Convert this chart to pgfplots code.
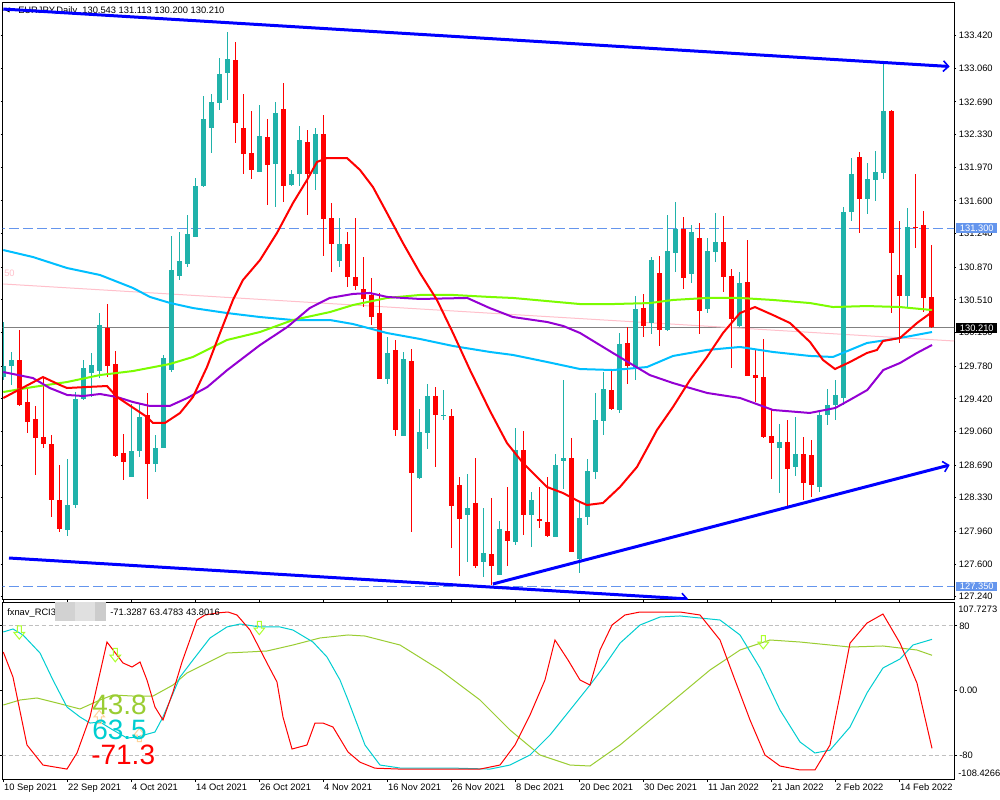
\documentclass[border=0pt]{standalone}
\usepackage{pgfplots}
\pgfplotsset{compat=1.18}
\usepackage{pgfplotstable}
\usepackage{fontspec}
\setmainfont{Liberation Sans}
\usetikzlibrary{arrows.meta}

\definecolor{candleup}{HTML}{20B2AA}
\definecolor{candledn}{HTML}{FF0000}
\definecolor{maRed}{HTML}{FF0000}
\definecolor{maSky}{HTML}{00BFFF}
\definecolor{maLime}{HTML}{7CFC00}
\definecolor{maViolet}{HTML}{9400D3}
\definecolor{pinkline}{HTML}{FFC0CB}
\definecolor{trend}{HTML}{0000FF}
\definecolor{cornflower}{HTML}{6495ED}
\definecolor{rciRed}{HTML}{FF0000}
\definecolor{rciCyan}{HTML}{00CED1}
\definecolor{rciOlive}{HTML}{9ACD32}
\definecolor{levelgray}{HTML}{C0C0C0}
\definecolor{arrowgreen}{HTML}{ADFF2F}
\definecolor{arroworange}{HTML}{FFD39B}
\definecolor{pricegray}{HTML}{808080}

\newcommand{\ts}{\fontsize{7}{8.4}\selectfont}

\pgfdeclareplotmark{dnarrow}{%
  \pgfpathmoveto{\pgfqpoint{-1.5pt}{5pt}}%
  \pgfpathlineto{\pgfqpoint{1.5pt}{5pt}}%
  \pgfpathlineto{\pgfqpoint{1.5pt}{0pt}}%
  \pgfpathlineto{\pgfqpoint{4pt}{0pt}}%
  \pgfpathlineto{\pgfqpoint{0pt}{-5pt}}%
  \pgfpathlineto{\pgfqpoint{-4pt}{0pt}}%
  \pgfpathlineto{\pgfqpoint{-1.5pt}{0pt}}%
  \pgfpathclose\pgfusepathqstroke}
\pgfdeclareplotmark{uparrow}{%
  \pgfpathmoveto{\pgfqpoint{-1.5pt}{-5pt}}%
  \pgfpathlineto{\pgfqpoint{1.5pt}{-5pt}}%
  \pgfpathlineto{\pgfqpoint{1.5pt}{0pt}}%
  \pgfpathlineto{\pgfqpoint{4pt}{0pt}}%
  \pgfpathlineto{\pgfqpoint{0pt}{5pt}}%
  \pgfpathlineto{\pgfqpoint{-4pt}{0pt}}%
  \pgfpathlineto{\pgfqpoint{-1.5pt}{0pt}}%
  \pgfpathclose\pgfusepathqstroke}

% bullish candles: index open high low close
\pgfplotstableread{
i o h l c
0 129.660 130.266 129.627 129.781
1 129.781 129.936 129.572 129.848
8 127.975 128.757 127.909 128.250
9 128.250 129.495 128.217 129.418
10 129.418 129.848 129.407 129.759
11 129.704 129.925 129.440 129.792
12 129.726 130.365 129.649 130.233
16 128.559 129.363 128.559 128.845
17 128.845 129.374 128.779 129.220
19 128.702 129.021 128.614 128.878
20 128.878 129.903 128.878 129.870
21 129.737 131.214 129.715 130.839
22 130.773 131.258 130.729 130.938
23 130.905 131.445 130.872 131.236
24 131.203 131.852 131.203 131.764
25 131.764 132.756 131.753 132.502
26 132.403 132.778 132.128 132.690
27 132.679 133.174 132.602 132.998
28 133.009 133.461 132.712 133.163
32 131.919 132.657 131.919 132.315
34 132.007 132.690 131.533 132.569
36 131.775 131.941 131.764 131.897
37 131.897 132.425 131.764 132.271
39 131.897 132.403 131.720 132.337
42 130.938 131.412 130.872 131.125
48 129.638 130.101 129.583 129.925
50 129.010 129.936 129.010 129.859
52 128.548 129.308 128.537 129.054
53 129.043 129.583 128.867 129.451
55 129.236 129.517 129.187 129.247
58 128.140 128.592 127.622 128.217
60 127.622 128.217 127.457 127.722
62 127.479 128.074 127.479 127.986
64 127.843 129.098 127.810 128.856
66 128.140 128.393 127.788 128.305
69 127.898 128.812 127.898 128.691
70 128.735 129.627 128.426 128.768
72 127.655 128.283 127.501 128.107
73 128.118 128.757 128.030 128.625
74 128.614 129.484 128.537 129.187
75 129.176 129.715 129.021 129.528
77 129.297 130.145 129.264 130.024
79 129.770 130.553 129.627 130.409
81 130.255 130.982 130.134 130.949
83 130.178 131.445 130.167 131.048
84 131.026 131.588 130.817 131.291
86 130.795 131.335 130.696 131.258
88 130.409 131.192 130.365 131.048
89 131.037 131.467 130.927 131.147
92 130.222 130.817 130.211 130.696
97 128.878 129.143 128.382 128.944
99 128.669 129.220 128.570 128.812
102 128.449 129.297 128.393 129.242
103 129.242 129.528 129.132 129.352
104 129.352 129.627 129.187 129.462
105 129.429 131.533 129.352 131.478
106 131.478 132.073 131.379 131.897
108 131.621 132.018 131.456 131.841
109 131.830 132.150 131.599 131.919
110 131.908 133.119 131.841 132.591
113 130.553 131.522 130.420 131.313
}\bullish

% bearish candles: index open high low close
\pgfplotstableread{
i o h l c
2 129.848 130.178 129.341 129.352
3 129.385 129.539 129.043 129.165
4 129.198 129.341 128.581 128.988
5 128.999 129.649 128.878 128.922
6 128.922 129.021 128.118 128.305
7 128.305 128.691 127.953 127.986
13 130.200 130.464 129.660 129.781
14 129.804 129.947 128.779 128.790
15 128.823 129.032 128.526 128.724
18 129.242 129.484 128.316 128.702
29 133.152 133.351 132.238 132.458
30 132.403 132.778 131.897 132.117
31 132.128 132.591 131.841 131.941
33 132.304 132.502 131.555 131.996
35 132.613 132.899 131.588 131.764
38 132.249 132.381 131.445 131.897
40 132.337 132.547 130.993 131.401
41 131.412 131.577 130.817 131.125
43 131.125 131.258 130.652 130.762
44 130.762 131.412 130.619 130.663
45 130.630 130.982 130.431 130.520
46 130.564 130.751 130.233 130.321
47 130.365 130.586 129.638 129.638
49 129.958 130.068 129.010 129.076
51 129.837 129.969 127.953 128.603
54 129.451 129.550 128.669 129.242
56 129.231 129.308 127.777 128.239
57 128.471 128.559 127.468 128.096
59 128.272 128.768 127.556 127.578
61 127.710 128.327 127.369 127.578
63 127.964 128.449 127.578 127.854
65 128.856 129.065 127.920 128.140
67 128.096 128.449 127.997 128.074
68 128.063 128.559 127.898 127.909
71 128.768 128.988 127.733 127.733
76 129.517 129.737 129.297 129.308
78 130.035 130.211 129.583 129.781
80 130.420 130.575 130.101 130.222
82 130.806 130.993 130.002 130.178
85 131.291 131.423 130.630 130.751
87 131.192 131.357 130.134 130.387
90 131.147 131.434 130.597 130.762
91 130.773 130.850 129.759 130.299
93 130.707 131.169 129.671 129.671
94 129.682 129.969 129.385 129.649
95 129.660 130.079 128.988 128.999
96 129.010 129.297 128.537 128.933
98 128.944 129.187 128.239 128.647
100 128.812 128.999 128.305 128.493
101 128.801 128.966 128.338 128.471
107 132.084 132.139 131.247 131.621
111 132.591 132.602 130.365 131.026
112 130.784 131.379 130.035 130.553
114 131.318 131.897 131.081 131.307
115 131.335 131.489 130.376 130.531
116 130.543 131.113 130.200 130.210
}\bearish

\begin{document}
\begin{tikzpicture}
\path[use as bounding box, fill=white] (0,0) rectangle (750pt,600pt);

% title (drawn first, trend line passes over it)
\begin{scope}[x=0.75pt,y=-0.75pt,yshift=600pt]
\fill[black] (4.5,10) -- (9.5,7.5) -- (9.5,12.5) -- cycle;
\node[anchor=base west, inner sep=0pt, font=\ts] at (18,14) {EURJPY,Daily\ \ 130.543 131.113 130.200 130.210};
\end{scope}

% ================= price panel =================
\begin{axis}[
  at={(2.025pt,150.375pt)}, anchor=south west,
  width=713.475pt, height=447.6pt, scale only axis,
  xmin=-0.075, xmax=118.84, ymin=127.209, ymax=133.784,
  axis line style={line width=0.75pt, black},
  xtick=\empty,
  ytick={133.42,133.06,132.69,132.33,131.97,131.60,131.24,130.87,130.51,130.15,129.78,129.42,129.06,128.69,128.33,127.96,127.60,127.24},
  yticklabels={133.420,133.060,132.690,132.330,131.970,131.600,131.240,130.870,130.510,130.150,129.780,129.420,129.060,128.690,128.330,127.960,127.600,127.240},
  yticklabel pos=right,
  tick align=outside, major tick length=1.5pt,
  tick style={black, line width=0.75pt},
  yticklabel style={anchor=west, inner sep=0pt, xshift=2pt, font=\ts},
  clip mode=individual,
]
% horizontal lines
\addplot[cornflower, line width=0.75pt, dash pattern=on 7pt off 3.5pt] coordinates {(-1,131.3) (120,131.3)};
\addplot[cornflower, line width=0.75pt, dash pattern=on 7pt off 3.5pt] coordinates {(-1,127.35) (120,127.35)};
\addplot[pricegray, line width=0.75pt] coordinates {(-1,130.21) (120,130.21)};
\addplot[pinkline, line width=0.75pt] coordinates {(0,130.685) (118.84,130.057)};

% wicks
\addplot[draw=none, mark=none, error bars/.cd, y dir=both, y explicit, error mark=none,
  error bar style={draw=candleup, solid, line width=0.75pt}]
  table[x=i, y expr={(\thisrow{h}+\thisrow{l})/2}, y error expr={(\thisrow{h}-\thisrow{l})/2}] {\bullish};
\addplot[draw=none, mark=none, error bars/.cd, y dir=both, y explicit, error mark=none,
  error bar style={draw=candledn, solid, line width=0.75pt}]
  table[x=i, y expr={(\thisrow{h}+\thisrow{l})/2}, y error expr={(\thisrow{h}-\thisrow{l})/2}] {\bearish};
% bodies
\addplot[draw=none, mark=none, error bars/.cd, y dir=both, y explicit, error mark=none,
  error bar style={draw=candleup, solid, line width=3.75pt}]
  table[x=i, y expr={(\thisrow{o}+\thisrow{c})/2}, y error expr={max(abs(\thisrow{c}-\thisrow{o})/2,0.0055)}] {\bullish};
\addplot[draw=none, mark=none, error bars/.cd, y dir=both, y explicit, error mark=none,
  error bar style={draw=candledn, solid, line width=3.75pt}]
  table[x=i, y expr={(\thisrow{o}+\thisrow{c})/2}, y error expr={max(abs(\thisrow{c}-\thisrow{o})/2,0.0055)}] {\bearish};

% moving averages
\addplot[maSky, line width=1.5pt] coordinates {
(0,131.059)(3.71,130.982)(7.96,130.861)(12.09,130.784)(16.21,130.641)(18.34,130.542)(20.84,130.476)(23.71,130.420)(27.96,130.365)(32.09,130.321)(36.21,130.288)(40.84,130.288)(43.71,130.244)(47.96,130.145)(52.09,130.079)(56.21,130.002)(60.84,129.936)(63.71,129.903)(67.96,129.826)(72.09,129.748)(76.21,129.737)(80.46,129.770)(83.71,129.892)(87.96,129.958)(92.09,129.991)(96.21,129.936)(100.84,129.892)(103.71,129.881)(107.96,130.035)(112.09,130.090)(116.09,130.156)};
\addplot[maLime, line width=1.5pt] coordinates {
(0,129.495)(3.71,129.550)(7.96,129.605)(12.09,129.682)(16.21,129.726)(20.84,129.804)(23.71,129.881)(27.96,130.068)(32.09,130.156)(36.21,130.288)(40.84,130.376)(43.71,130.453)(47.96,130.531)(52.09,130.564)(56.21,130.564)(60.84,130.542)(63.71,130.531)(67.96,130.497)(72.09,130.464)(76.21,130.464)(80.84,130.475)(83.71,130.509)(87.96,130.531)(92.09,130.531)(96.21,130.509)(100.84,130.475)(103.71,130.431)(107.96,130.442)(112.09,130.431)(116.09,130.398)};
\addplot[maViolet, line width=1.5pt] coordinates {
(0,129.715)(3.7,129.649)(5.8,129.539)(8.0,129.462)(10.0,129.451)(12.1,129.473)(14.2,129.440)(16.2,129.385)(18.3,129.341)(20.8,129.341)(23.0,129.429)(25.5,129.550)(28.0,129.737)(32.1,130.013)(35.5,130.211)(38.3,130.420)(40.8,130.531)(43.7,130.575)(45.8,130.586)(48.0,130.542)(52.1,130.520)(58.0,130.531)(60.8,130.420)(63.7,130.321)(68.0,130.266)(70.0,130.222)(72.1,130.145)(76.2,129.925)(80.8,129.682)(83.7,129.594)(88.0,129.484)(92.1,129.429)(96.2,129.297)(100.8,129.264)(104.0,129.319)(105.8,129.407)(108.0,129.517)(110.0,129.737)(112.1,129.815)(114.2,129.925)(116.1,130.013)};
\addplot[maRed, line width=1.5pt] coordinates {
(0,129.429)(4.96,129.660)(7.09,129.572)(7.96,129.539)(12.96,129.561)(14.21,129.440)(17.96,129.220)(18.71,129.154)(20.21,129.154)(22.09,129.264)(23.71,129.440)(25.46,129.770)(27.09,130.145)(28.71,130.509)(29.96,130.729)(32.09,130.949)(34.21,131.247)(36.21,131.577)(37.96,131.830)(39.21,132.029)(40.46,132.073)(42.96,132.073)(44.59,131.941)(46.21,131.753)(47.96,131.467)(49.96,131.136)(52.09,130.806)(54.21,130.509)(56.21,130.145)(58.34,129.737)(60.84,129.286)(62.96,128.933)(64.96,128.713)(67.96,128.449)(69.96,128.382)(72.09,128.283)(72.96,128.250)(74.96,128.272)(77.09,128.449)(79.21,128.669)(80.84,128.933)(81.71,129.076)(83.71,129.330)(85.84,129.627)(87.96,129.881)(89.96,130.145)(92.09,130.365)(93.96,130.431)(96.21,130.343)(98.34,130.255)(100.84,130.046)(102.46,129.848)(103.96,129.748)(105.84,129.826)(107.96,129.925)(109.21,129.958)(109.96,130.057)(112.09,130.090)(114.21,130.255)(116.09,130.376)};

% trend lines
\addplot[trend, line width=2.25pt, -{Straight Barb[length=4pt,width=8pt,line width=1.2pt]}] coordinates {(0,133.714) (118.3,133.081)};
\addplot[trend, line width=2.25pt, -{Straight Barb[length=4pt,width=8pt,line width=1.2pt]}] coordinates {(0.71,127.666) (85.6,127.215)};
\addplot[trend, line width=2.25pt, -{Straight Barb[length=4pt,width=8pt,line width=1.2pt]}] coordinates {(61.2,127.380) (118.3,128.691)};
\end{axis}

% ================= RCI panel =================
\begin{axis}[
  at={(2.025pt,15.75pt)}, anchor=south west,
  width=713.475pt, height=132.525pt, scale only axis,
  xmin=-0.075, xmax=118.84, ymin=-109.17, ymax=109.30,
  axis line style={line width=0.75pt, black},
  xtick={0,8,...,112},
  xticklabels={10 Sep 2021, 22 Sep 2021, 4 Oct 2021, 14 Oct 2021, 26 Oct 2021, 4 Nov 2021, 16 Nov 2021, 26 Nov 2021, 8 Dec 2021, 20 Dec 2021, 30 Dec 2021, 11 Jan 2022, 21 Jan 2022, 2 Feb 2022, 14 Feb 2022},
  xticklabel style={anchor=north west, inner sep=0pt, xshift=0.5pt, yshift=-1pt, font=\ts},
  ytick={80,0,-80}, yticklabels={80,0.00,-80},
  yticklabel pos=right,
  tick align=outside, major tick length=2.25pt,
  tick style={black, line width=0.75pt},
  yticklabel style={anchor=west, inner sep=0pt, xshift=1.5pt, font=\ts},
  clip mode=individual,
]
\addplot[levelgray, line width=0.75pt, dash pattern=on 3pt off 2pt] coordinates {(-1,80) (120,80)};
\addplot[levelgray, line width=0.75pt, dash pattern=on 3pt off 2pt] coordinates {(-1,-80) (120,-80)};

\addplot[rciOlive, line width=0.75pt] coordinates {
(0,-17.7)(2.09,-11.5)(4.21,-9.0)(6.71,-15.2)(9.59,-22.6)(12.09,-11.5)(13.71,-5.3)(16.21,-6.6)(18.71,-6.6)(21.21,7.0)(22.96,21.9)(25.46,34.3)(27.96,46.6)(30.46,47.8)(32.96,49.1)(36.21,56.5)(39.59,65.2)(43.09,68.9)(45.21,67.6)(49.59,56.5)(54.59,25.6)(59.59,-11.5)(63.34,-48.6)(67.09,-79.5)(70.84,-91.9)(73.34,-93.1)(77.09,-67.1)(80.84,-36.2)(84.59,-5.3)(88.34,25.6)(92.09,50.3)(95.84,62.7)(99.59,60.2)(103.34,56.5)(105.84,54.0)(109.96,55.3)(112.09,52.8)(114.21,50.3)(116.09,43.8)};
\addplot[rciCyan, line width=0.75pt] coordinates {
(0,72.6)(1.21,76.3)(2.46,68.9)(4.59,46.6)(6.21,13.2)(7.96,-20.2)(9.59,-32.5)(10.84,-40.0)(12.09,-38.7)(13.71,-48.6)(15.46,-58.5)(16.71,-57.2)(18.96,-51.1)(19.96,-32.5)(22.09,16.9)(23.71,38.0)(25.84,65.2)(27.96,78.8)(29.59,82.5)(32.09,78.8)(34.59,78.8)(36.21,75.0)(38.71,60.2)(40.46,41.7)(42.09,13.2)(43.09,-11.5)(45.21,-67.1)(47.09,-91.9)(49.59,-95.6)(55.84,-95.6)(60.84,-96.9)(63.34,-91.9)(65.84,-79.5)(68.34,-54.8)(70.84,-23.9)(73.34,7.0)(75.21,31.8)(77.09,58.8)(79.59,81.2)(82.09,91.1)(84.59,92.4)(87.09,89.9)(89.59,87.4)(92.09,68.9)(94.59,28.1)(97.09,-23.9)(99.59,-63.4)(101.46,-77.0)(103.34,-73.5)(105.84,-44.9)(107.96,-2.8)(109.96,28.1)(112.09,39.2)(113.71,56.5)(116.09,63.5)};
\addplot[rciRed, line width=0.75pt] coordinates {
(0,47.8)(1.21,16.9)(2.96,-67.1)(4.96,-91.9)(7.96,-96.9)(9.21,-77.0)(10.84,-32.5)(12.96,60.2)(14.96,34.3)(16.09,29.3)(17.09,35.5)(17.96,13.2)(18.96,-20.2)(19.96,-36.2)(21.21,-1.6)(22.34,35.5)(24.21,87.4)(25.21,93.6)(26.71,96.1)(28.09,97.3)(29.21,93.6)(30.84,75.0)(32.96,34.3)(34.21,10.8)(34.96,-32.5)(36.09,-72.1)(37.96,-67.1)(38.96,-40.0)(39.96,-40.0)(41.21,-44.9)(43.09,-75.8)(44.59,-88.4)(46.46,-95.8)(49.59,-96.9)(54.59,-96.9)(59.59,-96.9)(62.09,-91.9)(63.96,-67.1)(65.84,-30.0)(67.71,13.2)(68.96,62.7)(70.59,38.0)(72.09,13.2)(73.34,7.0)(74.59,50.3)(76.09,81.2)(77.71,93.6)(79.59,97.3)(82.09,97.3)(84.59,97.3)(87.09,93.6)(89.59,62.7)(91.46,13.2)(93.34,-36.2)(95.21,-79.5)(97.09,-93.1)(99.59,-98.0)(101.46,-98.0)(103.34,-67.1)(104.59,-5.0)(105.84,58.8)(107.96,83.6)(109.96,94.8)(112.09,58.8)(114.21,9.5)(116.09,-71.3)};

\addplot[only marks, mark=dnarrow, mark options={draw=arrowgreen, line width=0.75pt}] coordinates {(2,72) (14,44) (32,77.5) (95,60)};
\addplot[only marks, mark=uparrow, mark options={draw=arroworange, line width=0.75pt}] coordinates {(12,-32.5) (17,-54.8)};
\end{axis}

% ================= overlays in pixel coordinates =================
\begin{scope}[x=0.75pt,y=-0.75pt,yshift=600pt]
% price labels on the right
\node[fill=cornflower, text=white, inner sep=0pt, minimum width=30.75pt, minimum height=7pt, anchor=west, font=\ts] at (956,228) {131.300};
\node[fill=black, text=white, inner sep=0pt, minimum width=30.75pt, minimum height=7.5pt, anchor=west, font=\ts] at (956,328) {130.210};
\node[fill=cornflower, text=white, inner sep=0pt, minimum width=30.75pt, minimum height=7pt, anchor=west, font=\ts] at (956,586.5) {127.350};
% extreme labels of RCI panel
\node[anchor=west, inner sep=0pt, font=\ts] at (958,609) {107.7273};
\node[anchor=west, inner sep=0pt, font=\ts] at (958,773) {-108.4266};
% pink label
\node[anchor=west, inner sep=0pt, text=pinkline, font=\ts] at (4,273.5) {50};
% RCI header
\node[anchor=base west, inner sep=0pt, font=\ts] at (7,615.5) {fxnav\_RCI3};
\fill[gray!35] (55,602.5) rectangle (75,621);
\fill[gray!24] (75,602.5) rectangle (95,621);
\fill[gray!40] (95,602.5) rectangle (106,621);
\node[anchor=base west, inner sep=0pt, font=\ts] at (110,615.5) {-71.3287 63.4783 43.8016};
% large values
\node[anchor=base west, inner sep=0pt, text=rciOlive, font=\fontsize{21}{21}\selectfont] at (92,715) {43.8};
\node[anchor=base west, inner sep=0pt, text=rciCyan, font=\fontsize{21}{21}\selectfont] at (92,740) {63.5};
\node[anchor=base west, inner sep=0pt, text=rciRed, font=\fontsize{21}{21}\selectfont] at (91,765) {-71.3};
\end{scope}
\end{tikzpicture}
\end{document}
